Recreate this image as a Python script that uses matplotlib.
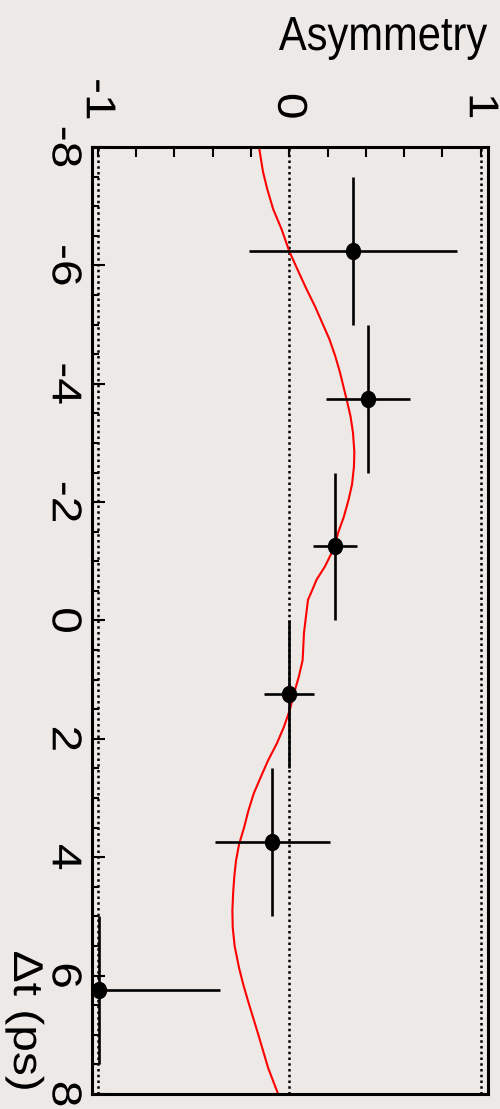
import matplotlib
matplotlib.use("Agg")
import matplotlib.pyplot as plt
from matplotlib.ticker import MultipleLocator
from matplotlib.patheffects import AbstractPathEffect
from matplotlib.transforms import Affine2D
from matplotlib.path import Path

plt.rcParams['font.family'] = ['Liberation Sans', 'DejaVu Sans']
plt.rcParams['axes.unicode_minus'] = False

# measured asymmetry per delta-t bin
bin_centres = [-6.25, -3.75, -1.25, 1.25, 3.75, 6.25]
bin_half_width = [1.25, 1.25, 1.25, 1.25, 1.25, 1.25]
asym = [0.334, 0.411, 0.239, 0.0, -0.089, -0.995]
asym_err = [0.543, 0.22, 0.113, 0.13, 0.30, 0.635]

# fitted asymmetry curve
curve_t = [-8.0, -7.58, -7.29, -6.95, -6.61, -6.24, -5.88, -5.6, -5.31, -5.03,
           -4.75, -4.47, -4.19, -3.73, -3.45, -3.17, -2.85, -2.6, -2.3, -2.04,
           -1.75, -1.48, -1.25, -0.91, -0.69, -0.46, -0.35, -0.06, 0.21, 0.67,
           0.95, 1.23, 1.51, 1.8, 2.08, 2.36, 2.64, 2.92, 3.21, 3.5,
           3.78, 4.06, 4.33, 4.61, 4.9, 5.19, 5.5, 5.87, 6.15, 6.43,
           6.98, 7.56, 8.0]
curve_a = [-0.158, -0.137, -0.115, -0.084, -0.04, 0.0, 0.05, 0.09, 0.134, 0.172,
           0.21, 0.24, 0.265, 0.30, 0.32, 0.333, 0.34, 0.338, 0.328, 0.31,
           0.285, 0.255, 0.238, 0.186, 0.143, 0.113, 0.098, 0.087, 0.077, 0.07,
           0.05, 0.025, 0.003, -0.028, -0.065, -0.11, -0.148, -0.185, -0.213, -0.236,
           -0.262, -0.278, -0.287, -0.293, -0.297, -0.295, -0.285, -0.262, -0.24, -0.215,
           -0.163, -0.11, -0.058]

dt_ticks = [-8, -6, -4, -2, 0, 2, 4, 6, 8]
asym_ticks = [-1, 0, 1]


class Stretch(AbstractPathEffect):
    """Scale glyph outlines in the text's own frame (sx along the baseline)."""

    def __init__(self, sx=1.0, sy=1.0):
        super().__init__()
        self.sx, self.sy = sx, sy

    def draw_path(self, renderer, gc, tpath, affine, rgbFace=None):
        ext = tpath.get_extents()
        cx = 0.5 * (ext.x0 + ext.x1)
        local = Affine2D().translate(-cx, 0).scale(self.sx, self.sy).translate(cx, 0)
        renderer.draw_path(gc, tpath, local + affine, rgbFace)


tall = [Stretch(sx=1.15)]

# slightly tall dot marker
dot = Path.unit_circle().transformed(Affine2D().scale(0.875, 1.0))

bg = '#ece9e7'
fig = plt.figure(figsize=(5, 11.09), dpi=100, facecolor=bg)
ax = fig.add_axes([0.184, 0.0135, 0.792, 0.854])
ax.set_facecolor(bg)
ax.set_xlim(-1.03, 1.038)
ax.set_ylim(8, -8)

for a in asym_ticks:
    ax.axvline(a, color='black', lw=1.8, ls=(0, (1.0, 1.3)), zorder=1)

ax.plot(curve_a, curve_t, color='red', lw=1.5, zorder=2)
ax.errorbar(asym, bin_centres, xerr=asym_err, yerr=bin_half_width,
            fmt='none', ecolor='black', elinewidth=1.9, capsize=0, zorder=3)
ax.plot(asym, bin_centres, ls='none', marker=dot, ms=11.5, color='black', zorder=4)

for s in ax.spines.values():
    s.set_linewidth(2.2)

# asymmetry axis along the top
ax.xaxis.tick_top()
ax.set_xticks(asym_ticks)
ax.set_xticklabels([str(v) for v in asym_ticks])
ax.xaxis.set_minor_locator(MultipleLocator(0.2))
ax.tick_params(axis='x', which='both', direction='in', length=7, width=1.5,
               top=True, bottom=False, pad=21, labelsize=30, labelrotation=-90)

# delta-t axis down the left side
ax.set_yticks(dt_ticks)
ax.set_yticklabels([str(v) for v in dt_ticks])
ax.yaxis.set_minor_locator(MultipleLocator(0.5))
ax.tick_params(axis='y', which='major', direction='in', length=9.5, width=1.5,
               left=True, right=False, pad=6, labelsize=30, labelrotation=-90)
ax.tick_params(axis='y', which='minor', direction='in', length=5, width=1.5,
               left=True, right=False)
for lab in ax.get_yticklabels():
    lab.set_va('center')
    lab.set_path_effects(tall)
for lab in ax.get_xticklabels():
    lab.set_path_effects(tall)

fig.text(487 / 500, 1 - 50 / 1109, 'Asymmetry', ha='right', va='baseline', fontsize=30,
         path_effects=[Stretch(sy=1.15)])
fig.text(25 / 500, 1 - 1021 / 1109, 'Δt (ps)', rotation=-90, ha='center', va='center',
         fontsize=30, path_effects=tall)

fig.savefig('out.png', dpi=100, facecolor=bg)
